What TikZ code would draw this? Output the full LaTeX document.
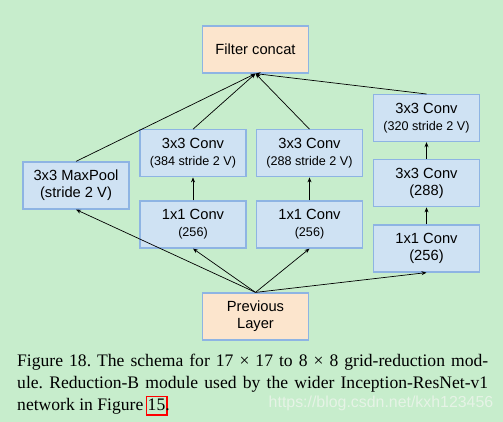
\documentclass[tikz,border=0pt]{standalone}
\usepackage{fontspec}
\setmainfont{Liberation Serif}
\setsansfont{Liberation Sans}
\usepackage{xcolor}
\usetikzlibrary{arrows.meta,positioning}

\definecolor{bggreen}{HTML}{C7EDCC}
\definecolor{opblue}{HTML}{CFE2F3}
\definecolor{edgeblue}{HTML}{8EB4E3}
\definecolor{iopeach}{HTML}{FCE5CD}
\definecolor{wmark}{HTML}{E6F3E6}

\newcommand\boxfont{\sffamily\fontsize{14.7}{16.7}\selectfont}
\newcommand\subfont{\fontsize{12.6}{16.7}\selectfont}
\newcommand\capfont{\rmfamily\fontsize{17.6}{22}\selectfont\frenchspacing}
\newcommand\markfont{\sffamily\fontsize{15.9}{18}\selectfont}
\newcommand\linkbox[1]{\leavevmode\rlap{\kern-1.8pt\color{red}\fboxsep=0pt\fboxrule=1.5pt%
  \fbox{\rule[-3.5pt]{0pt}{17pt}\kern0.6pt\phantom{#1}\kern0.6pt}}#1}

\begin{document}
\begin{tikzpicture}[
  x=1pt, y=-1pt,
  node distance=23pt and 10pt,
  op/.style={rectangle, draw=edgeblue, line width=1.2pt, fill=opblue,
             minimum width=106pt, minimum height=47pt, inner sep=2pt,
             align=center, font=\boxfont},
  io/.style={op, fill=iopeach},
  arr/.style={-{Stealth[length=5pt, width=4pt]}, line width=0.7pt}
]
\fill[bggreen] (0,0) rectangle (503,422);

\node[io] (concat) at (255.5,49.5) {Filter concat};
\node[io] (prev) at (255.5,316.5) {Previous\\Layer};

\node[op] (pool) at (76,185.5) {3x3 MaxPool\\(stride 2 V)};

\node[op] (c2a) at (193,224.5) {1x1 Conv\\{\subfont(256)}};
\node[op, above=of c2a] (c2b) {3x3 Conv\\{\subfont(384 stride 2 V)}};

\node[op] (c3a) at (309.5,224.5) {1x1 Conv\\{\subfont(256)}};
\node[op, above=of c3a] (c3b) {3x3 Conv\\{\subfont(288 stride 2 V)}};

\node[op] (c4a) at (426.5,248.5) {1x1 Conv\\(256)};
\node[op, above=17pt of c4a] (c4b) {3x3 Conv\\(288)};
\node[op, above=17pt of c4b] (c4c) {3x3 Conv\\{\subfont(320 stride 2 V)}};

% inputs and outputs of the four branches
\foreach \b in {pool,c2a,c3a,c4a}
  \draw[arr] (prev.north) -- (\b.south);
\foreach \b in {pool,c2b,c3b,c4c}
  \draw[arr] (\b.north) -- (concat.south);

\draw[arr] (c2a) -- (c2b);
\draw[arr] (c3a) -- (c3b);
\draw[arr] (c4a) -- (c4b);
\draw[arr] (c4b) -- (c4c);

\node[anchor=north west, inner sep=0pt, text width=471pt, align=justify,
      font=\capfont] (caption) at (17,354)
  {Figure 18. The schema for 17 × 17 to 8 × 8 grid-reduction mod-\linebreak
   ule. Reduction-B module used by the wider Inception-ResNet-v1\linebreak
   network in Figure \linkbox{15}.};
\node[font=\markfont, text=wmark] (mark) at (381,403) {https://blog.csdn.net/kxh123456};
\end{tikzpicture}
\end{document}
